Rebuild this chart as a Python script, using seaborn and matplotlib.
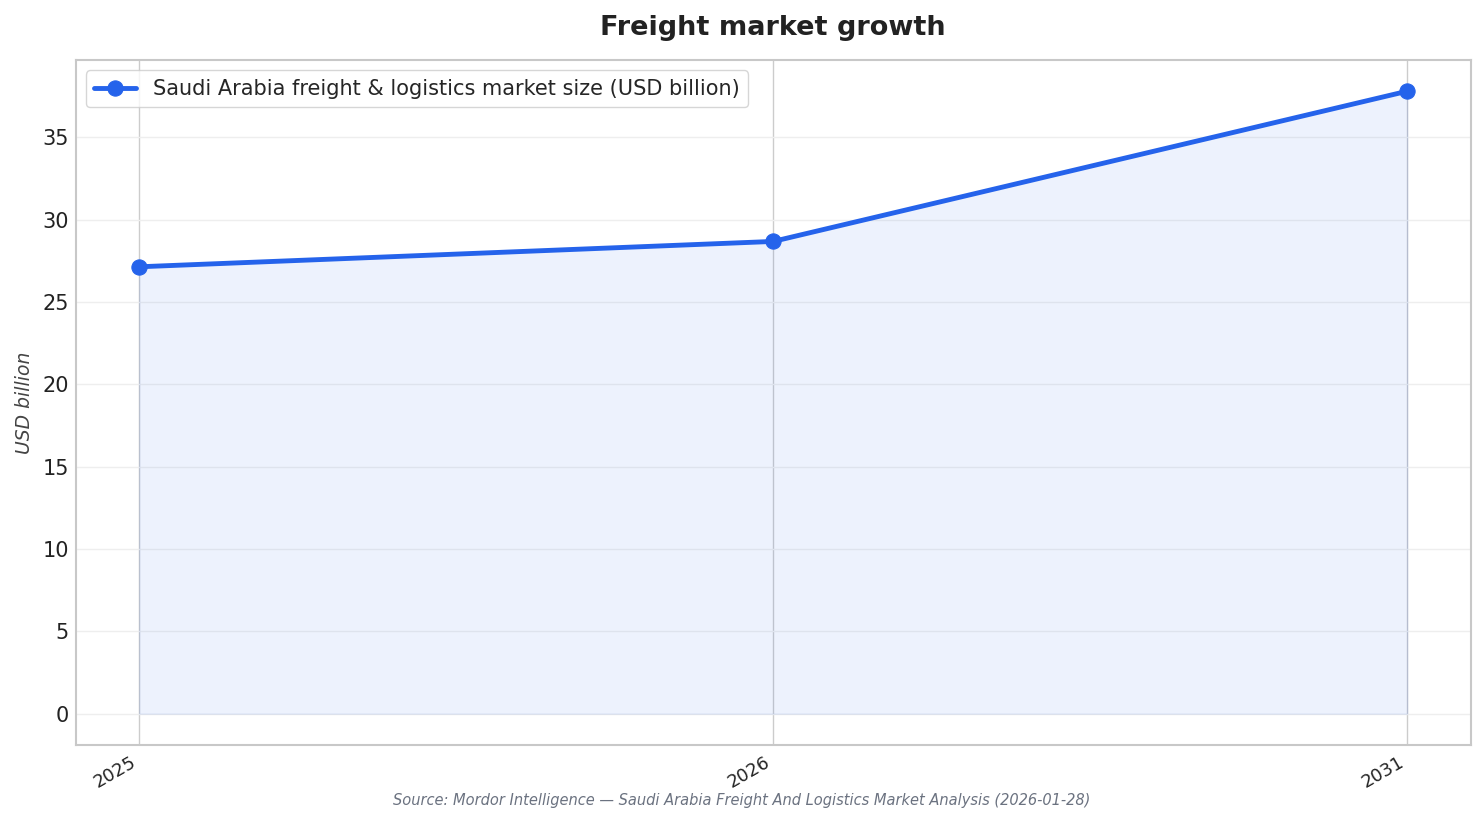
import matplotlib
matplotlib.use("Agg")
import matplotlib.pyplot as plt
import numpy as np
import pandas as pd
import seaborn as sns

# chart data
years = ["2025", "2026", "2031"]
market_size = [27.13, 28.67, 37.79]
series_label = "Saudi Arabia freight & logistics market size (USD billion)"
source_note = "Source: Mordor Intelligence \u2014 Saudi Arabia Freight And Logistics Market Analysis (2026-01-28)"

LINE_COLOR = "#2563eb"

sns.set_theme(style="whitegrid")
plt.rcParams["font.family"] = ["DejaVu Sans"]

df = pd.DataFrame({"year": years, "value": market_size})

fig, ax = plt.subplots(figsize=(14.84, 8.23), dpi=100)

sns.lineplot(data=df, x="year", y="value", marker="o", markersize=11,
             linewidth=3.5, color=LINE_COLOR, markeredgecolor=LINE_COLOR,
             label=series_label, ax=ax)
ax.fill_between(np.arange(len(years)), market_size, 0, color=LINE_COLOR,
                alpha=0.08)

ax.set_title("Freight market growth", fontsize=19.5, fontweight="bold",
             color="#222222", pad=18)
ax.set_xlabel("")
ax.set_ylabel("USD billion", fontsize=13.5, fontstyle="italic",
              color="#444444", labelpad=6)
ax.tick_params(axis="y", labelsize=15, colors="#222222", length=0, pad=5)
ax.tick_params(axis="x", labelsize=13, colors="#222222", length=0, pad=6)
plt.setp(ax.get_xticklabels(), rotation=30, ha="right")

ax.grid(axis="y", color="#eeeeee", linewidth=1)
ax.grid(axis="x", color="#cccccc", linewidth=1)
for sp in ax.spines.values():
    sp.set_color("#c8c8c8")
    sp.set_linewidth(1.5)

leg = ax.legend(loc="upper left", fontsize=15, frameon=True)
leg.get_frame().set_edgecolor("#cccccc")

fig.text(0.5, 0.022, source_note, ha="center", fontsize=10.5,
         fontstyle="italic", color="#6b7280")

fig.subplots_adjust(left=0.051, right=0.991, top=0.927, bottom=0.095)
fig.savefig("out.png", dpi=100)
